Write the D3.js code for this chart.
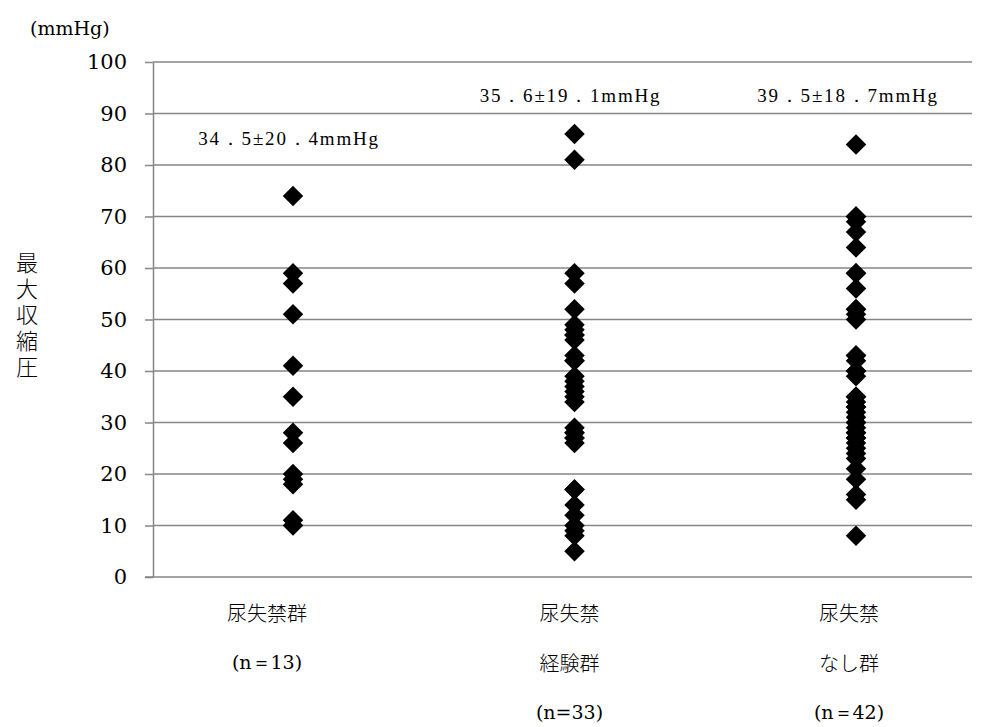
<!DOCTYPE html>
<html>
<head>
<meta charset="utf-8">
<script src="https://cdn.jsdelivr.net/npm/d3@7"></script>
<style>
  body { margin: 0; background: #fff; }
</style>
</head>
<body>
<svg id="chart" width="986" height="727"></svg>
<script>
// groups along the x axis
let groups = ["g1", "g2", "g3"];
let groupLabels = [["尿失禁群", "(n＝13)"], ["尿失禁", "経験群", "(n=33)"], ["尿失禁", "なし群", "(n＝42)"]];
let statLabels = ["34．5±20．4mmHg", "35．6±19．1mmHg", "39．5±18．7mmHg"];

// max contraction pressure
let g1 = [74, 59, 57, 51, 41, 35, 28, 26, 20, 19, 18, 11, 10];
let g2 = [86, 81, 59, 57, 52, 49, 48, 47, 46, 43, 42, 39, 37, 36, 34, 29, 28, 27, 26, 17, 14, 12, 9, 8, 5,
          47, 42, 38, 35, 28, 27, 17, 10];
let g3 = [84, 70, 69, 67, 64, 59, 56, 52, 51, 50, 43, 42, 40, 39, 35, 34, 33, 32, 31, 30, 29, 28, 27, 26, 25,
          24, 23, 21, 19, 16, 15, 8, 70, 59, 52, 43, 40, 35, 33, 30, 28, 27];

let yTicks = [0, 10, 20, 30, 40, 50, 60, 70, 80, 90, 100];

let serif = "DejaVu Serif, Liberation Serif, serif";
let svg = d3.select("#chart");
let plotLeft = 153, plotRight = 972, plotTop = 62, plotBottom = 577;

let x = d3.scalePoint()
    .domain(groups)
    .range([293, 856]);

let y = d3.scaleLinear()
    .domain([0, 100])
    .range([plotBottom, plotTop]);

// text boxes sit a little left of the point columns
let labelShift = [-26, -5, -7];
let statShift = [-4, -4, -8];

// gridlines
svg.append("g")
  .selectAll("line")
  .data(yTicks.filter(d => d > 0))
  .enter()
  .append("line")
    .attr("x1", plotLeft)
    .attr("x2", plotRight)
    .attr("y1", d => y(d))
    .attr("y2", d => y(d))
    .attr("stroke", "#868686")
    .attr("stroke-width", 1.5);

// y axis
let yAxis = svg.append("g")
    .attr("transform", "translate(" + plotLeft + ",0)")
    .call(d3.axisLeft(y).tickValues(yTicks).tickSize(8).tickPadding(18).tickSizeOuter(0));
yAxis.attr("font-family", serif);
yAxis.select(".domain").attr("stroke", "#868686").attr("stroke-width", 1.5);
yAxis.selectAll(".tick line").attr("stroke", "#868686").attr("stroke-width", 1.5);
yAxis.selectAll(".tick text")
    .attr("font-family", serif)
    .attr("font-size", 21)
    .attr("fill", "#000");

// x axis baseline
svg.append("line")
    .attr("x1", plotLeft - 8)
    .attr("x2", plotRight)
    .attr("y1", y(0))
    .attr("y2", y(0))
    .attr("stroke", "#868686")
    .attr("stroke-width", 1.5);

// unit label
svg.append("text")
    .attr("x", 30)
    .attr("y", 35)
    .attr("font-family", serif)
    .attr("font-size", 19)
    .text("(mmHg)");

// y title, written vertically
svg.append("text")
    .attr("x", 27)
    .attr("y", 252)
    .style("writing-mode", "vertical-rl")
    .style("letter-spacing", "4px")
    .attr("font-family", "Noto Sans CJK JP")
    .attr("font-weight", 300)
    .attr("font-size", 22)
    .text("最大収縮圧");

// points
let diamond = d3.symbol().type(d3.symbolSquare).size(210)();
let allData = [g1, g2, g3];
allData.forEach(function(vals, i) {
    svg.append("g")
      .selectAll("path")
      .data(vals)
      .enter()
      .append("path")
        .attr("d", diamond)
        .attr("transform", d => "translate(" + x(groups[i]) + "," + y(d) + ") rotate(45)")
        .attr("fill", "#000");
});

// mean ± sd labels
let statY = [138, 95, 95];
svg.append("g")
  .selectAll("text")
  .data(statLabels)
  .enter()
  .append("text")
    .attr("x", (d, i) => x(groups[i]) + statShift[i])
    .attr("y", (d, i) => statY[i])
    .attr("text-anchor", "middle")
    .attr("dominant-baseline", "central")
    .attr("font-family", "Liberation Serif, serif")
    .attr("font-size", 19)
    .style("letter-spacing", "1.8px")
    .text(d => d);

// category labels
let lineY = [612, 662, 712];
groupLabels.forEach(function(lines, i) {
    svg.append("g")
      .selectAll("text")
      .data(lines)
      .enter()
      .append("text")
        .attr("x", x(groups[i]) + labelShift[i])
        .attr("y", (d, j) => lineY[j])
        .attr("text-anchor", "middle")
        .attr("dominant-baseline", "central")
        .attr("font-family", d => d.startsWith("(") ? serif : "Noto Sans CJK JP")
        .attr("font-weight", d => d.startsWith("(") ? 400 : 300)
        .attr("font-size", d => d.startsWith("(") ? 19 : 20)
        .text(d => d);
});
</script>
</body>
</html>
